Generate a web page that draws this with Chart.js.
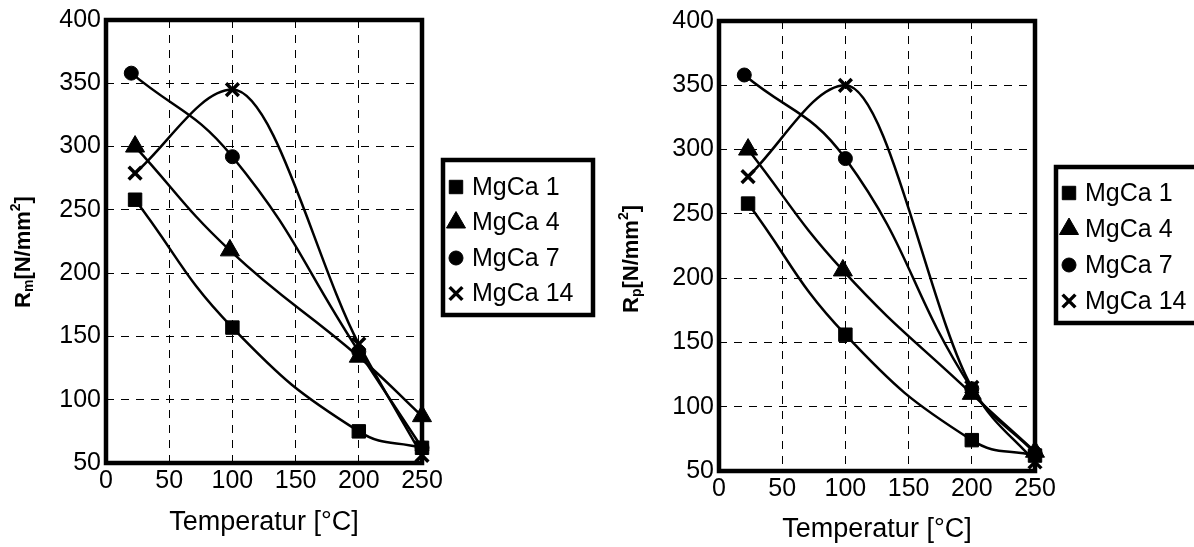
<!DOCTYPE html>
<html>
<head>
<meta charset="utf-8">
<script src="https://cdn.jsdelivr.net/npm/chart.js"></script>
<style>
  html, body { margin: 0; padding: 0; background: #fff; }
  body { width: 1194px; height: 547px; position: relative; overflow: hidden; }
  canvas { position: absolute; top: 0; }
</style>
</head>
<body>
<canvas id="rm" width="600" height="547" style="left:0px"></canvas>
<canvas id="rp" width="594" height="547" style="left:600px"></canvas>
<script>
const seriesNames = ['MgCa 1', 'MgCa 4', 'MgCa 7', 'MgCa 14'];
const markerStyles = ['rect', 'triangle', 'circle', 'crossRot'];
const markerSizes = [9.5, 11, 7, 9];
const curveModes = ['default', 'default', 'default', 'monotone'];

// test temperatures (the room temperature marks sit a bit apart in the original)
const tempMgCa1 = [23, 100, 200, 250];
const tempMgCa4 = [23, 98, 200, 250];
const tempMgCa7 = [20, 100, 200, 250];
const tempMgCa14 = [23, 100, 200, 250];

// tensile strength Rm [N/mm2]
const rmMgCa1 = [258, 157, 75, 62];
const rmMgCa4 = [300, 218, 134, 87];
const rmMgCa7 = [358, 292, 138, 62];
const rmMgCa14 = [279, 345, 144, 56];

// yield strength Rp [N/mm2]
const rpMgCa1 = [258, 156, 74, 62];
const rpMgCa4 = [300, 206, 110, 65];
const rpMgCa7 = [358, 293, 114, 64];
const rpMgCa14 = [279, 350, 115, 57];

const xTicks = [0, 50, 100, 150, 200, 250];
const yTicks = [50, 100, 150, 200, 250, 300, 350, 400];

const FONT = "'Liberation Sans', Arial, sans-serif";

function points(xs, ys) {
    return xs.map((x, i) => ({ x: x, y: ys[i] }));
}

function drawMarker(ctx, i, x, y) {
    ctx.save();
    ctx.fillStyle = '#000';
    ctx.strokeStyle = '#000';
    const bw = markerStyles[i] === 'crossRot' ? 3.5 : 1;
    ctx.lineWidth = bw;
    Chart.helpers.drawPoint(ctx, { pointStyle: markerStyles[i], radius: markerSizes[i], borderWidth: bw, rotation: 0 }, x, y);
    ctx.restore();
}

// thick box round the plot area
const frame = {
    id: 'frame',
    beforeDatasetsDraw(chart) {
        const { ctx, chartArea: a } = chart;
        ctx.save();
        ctx.lineWidth = 4.5;
        ctx.strokeStyle = '#000';
        ctx.strokeRect(a.left, a.top, a.right - a.left, a.bottom - a.top);
        ctx.restore();
    }
};

// y title with sub- and superscript
const yTitle = {
    id: 'yTitle',
    afterDraw(chart, args, opts) {
        const ctx = chart.ctx;
        const big = 'bold 22px ' + FONT, small = 'bold 14px ' + FONT;
        const parts = [['R', big, 0], [opts.sub, small, 5], ['[N/mm', big, 0], ['2', small, -8], [']', big, 0]];
        let w = 0;
        parts.forEach(p => { ctx.font = p[1]; w += ctx.measureText(p[0]).width; });
        ctx.save();
        ctx.translate(opts.x, opts.y);
        ctx.rotate(-Math.PI / 2);
        ctx.fillStyle = '#000';
        ctx.textBaseline = 'middle';
        let x = -w / 2;
        parts.forEach(p => {
            ctx.font = p[1];
            ctx.fillText(p[0], x, p[2]);
            x += ctx.measureText(p[0]).width;
        });
        ctx.restore();
    }
};

// boxed legend beside the plot
const boxLegend = {
    id: 'boxLegend',
    afterDraw(chart, args, opts) {
        const ctx = chart.ctx;
        ctx.save();
        ctx.lineWidth = 4.5;
        ctx.strokeStyle = '#000';
        ctx.strokeRect(opts.x, opts.y, opts.w, opts.h);
        ctx.font = '25px ' + FONT;
        ctx.fillStyle = '#000';
        ctx.textBaseline = 'middle';
        seriesNames.forEach((name, i) => {
            const y = opts.y + opts.first + i * opts.gap;
            drawMarker(ctx, i, opts.x + 13, y);
            ctx.fillText(name, opts.x + 29, y + 1);
        });
        ctx.restore();
    }
};

function makeChart(id, values, geo) {
    const temps = [tempMgCa1, tempMgCa4, tempMgCa7, tempMgCa14];
    return new Chart(document.getElementById(id), {
        type: 'line',
        data: {
            datasets: seriesNames.map((name, i) => ({
                label: name,
                data: points(temps[i], values[i]),
                borderColor: '#000',
                backgroundColor: '#000',
                borderWidth: 2.5,
                tension: 0.45,
                cubicInterpolationMode: curveModes[i],
                pointStyle: markerStyles[i],
                pointRadius: markerSizes[i],
                pointHoverRadius: markerSizes[i],
                pointBorderWidth: markerStyles[i] === 'crossRot' ? 3.5 : 1,
                clip: false
            }))
        },
        options: {
            responsive: false,
            animation: false,
            devicePixelRatio: 1,
            layout: { padding: { top: geo.top, right: geo.padRight, left: 0, bottom: 0 } },
            plugins: {
                legend: { display: false },
                tooltip: { enabled: false },
                yTitle: { sub: geo.sub, x: geo.titleX, y: geo.titleY },
                boxLegend: geo.legend
            },
            scales: {
                x: {
                    type: 'linear',
                    min: xTicks[0],
                    max: xTicks[xTicks.length - 1],
                    afterBuildTicks: s => { s.ticks = xTicks.map(v => ({ value: v })); },
                    afterFit: s => { s.height = geo.xHeight; },
                    ticks: { color: '#000', font: { family: FONT, size: 25 }, padding: 3, maxRotation: 0 },
                    grid: { color: '#000', lineWidth: 1, drawTicks: false },
                    border: { display: false, dash: [8, 7] },
                    title: {
                        display: true, text: 'Temperatur [°C]', color: '#000',
                        font: { family: FONT, size: 27 }, padding: { top: 0, bottom: geo.xTitlePad }
                    }
                },
                y: {
                    type: 'linear',
                    min: yTicks[0],
                    max: yTicks[yTicks.length - 1],
                    afterBuildTicks: s => { s.ticks = yTicks.map(v => ({ value: v })); },
                    afterFit: s => { s.width = geo.yWidth; },
                    ticks: { color: '#000', font: { family: FONT, size: 25 }, padding: 5 },
                    grid: { color: '#000', lineWidth: 1, drawTicks: false },
                    border: { display: false, dash: [8, 7] }
                }
            }
        },
        plugins: [frame, yTitle, boxLegend]
    });
}

makeChart('rm', [rmMgCa1, rmMgCa4, rmMgCa7, rmMgCa14], {
    top: 15, padRight: 178, xHeight: 84, yWidth: 106, xTitlePad: 8,
    sub: 'm', titleX: 24, titleY: 252,
    legend: { x: 443, y: 160, w: 150, h: 155, first: 27, gap: 35.5 }
});

makeChart('rp', [rpMgCa1, rpMgCa4, rpMgCa7, rpMgCa14], {
    top: 21, padRight: 159, xHeight: 76, yWidth: 119, xTitlePad: 1,
    sub: 'p', titleX: 32, titleY: 259,
    legend: { x: 456, y: 167, w: 200, h: 156, first: 26, gap: 36 }
});
</script>
</body>
</html>
